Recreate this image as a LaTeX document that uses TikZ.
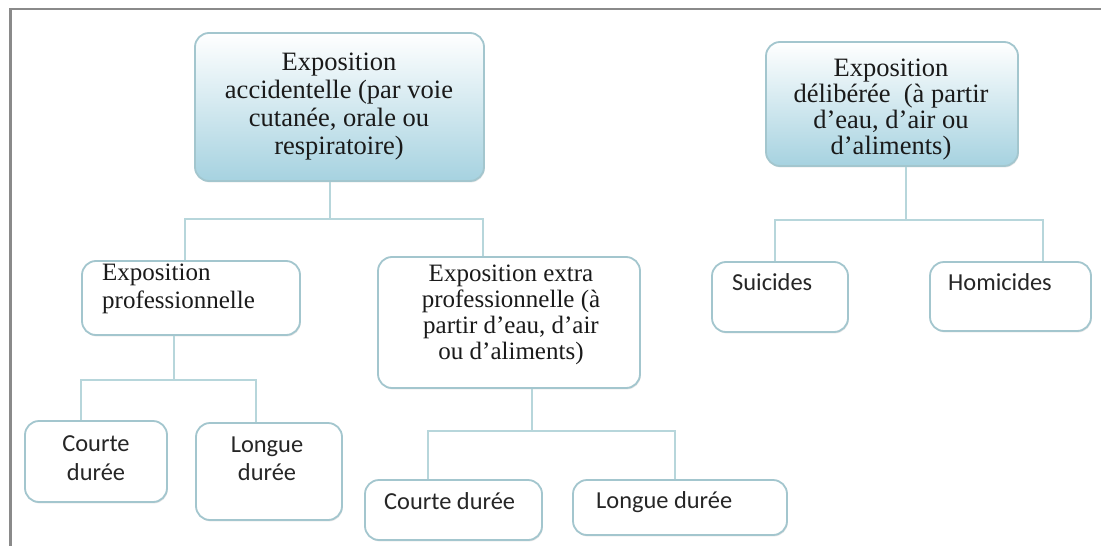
\documentclass[tikz,border=0pt]{standalone}
\usepackage{fontspec}
\usetikzlibrary{shadows}
\setmainfont{Liberation Serif}
\newfontfamily\sansfnt{Carlito}
\definecolor{bordc}{HTML}{A3C6CE}
\definecolor{connc}{HTML}{B7D6DB}
\definecolor{rootbot}{HTML}{A6D2E0}
\definecolor{framec}{HTML}{8A8A8A}
\definecolor{txtc}{HTML}{1A1A1A}
\definecolor{stxtc}{HTML}{262626}
\begin{document}
\begin{tikzpicture}[x=1pt,y=-1pt,
  box/.style={draw=bordc, line width=1.8pt, rounded corners=14pt, fill=white, inner sep=0pt,
    drop shadow={shadow xshift=0.8pt, shadow yshift=-1.4pt, fill=black!30, opacity=0.35}},
  rootbox/.style={box, top color=white, bottom color=rootbot},
  conn/.style={draw=connc, line width=1.5pt},
  serift/.style={text=txtc, font=\fontsize{25}{#1}\selectfont, align=center, inner sep=0pt},
  rootserift/.style={text=txtc, font=\fontsize{26.5}{#1}\selectfont, align=center, inner sep=0pt},
  sanst/.style={text=stxtc, font=\sansfnt\fontsize{24.4}{28.5}\selectfont, align=center, inner sep=0pt},
  sanst1/.style={text=stxtc, font=\sansfnt\fontsize{24.4}{29}\selectfont, inner sep=0pt, anchor=west, text height=0.7em, text depth=0.2em}]
\useasboundingbox (0,0) rectangle (1101,546);
\fill[white] (0,0) rectangle (1101,546);
\draw[framec, line width=2.5pt] (10.5,546) -- (10.5,8.8) -- (1101,8.8);

% boxes
\node[rootbox, minimum width=289pt, minimum height=148pt] (r1) at (339.5,107) {};
\node[rootbox, minimum width=252pt, minimum height=124pt] (r2) at (892,104) {};
\node[box, minimum width=218pt, minimum height=74pt] (prof) at (191,298) {};
\node[box, minimum width=262pt, minimum height=131pt] (extra) at (509,322.5) {};
\node[box, minimum width=142pt, minimum height=81pt] (cl) at (96,461.5) {};
\node[box, minimum width=146pt, minimum height=97pt] (ll) at (269,471.5) {};
\node[box, minimum width=177pt, minimum height=60pt] (cb) at (453.5,510) {};
\node[box, minimum width=214pt, minimum height=55pt] (lb) at (680,507.5) {};
\node[box, minimum width=136pt, minimum height=70pt] (su) at (780,297) {};
\node[box, minimum width=161pt, minimum height=69pt] (ho) at (1010.5,296.5) {};

% texts
\node[rootserift=28] (r1t) at (339,107) {Exposition\\accidentelle (par voie\\cutanée, orale ou\\respiratoire)};
\node[rootserift=26] (r2t) at (891,110) {Exposition\\délibérée\ \ (à partir\\d’eau, d’air ou\\d’aliments)};
\node[serift=28, align=left, anchor=west] (proft) at (102,289) {Exposition\\professionnelle};
\node[serift=26] (extrat) at (511,315) {Exposition extra\\professionnelle (à\\partir d’eau, d’air\\ou d’aliments)};
\node[sanst] (clt) at (96,458) {Courte\\durée};
\node[sanst] (llt) at (267,459) {Longue\\durée};
\node[sanst1] (cbt) at (384,507) {Courte durée};
\node[sanst1] (lbt) at (596,506) {Longue durée};
\node[sanst1] (sut) at (732,288) {Suicides};
\node[sanst1] (hot) at (948,288) {Homicides};

% connectors
\coordinate (j1) at (330,219);
\coordinate (h1a) at (185,219);
\coordinate (h1b) at (483,219);
\draw[conn] (r1.south -| j1) -- (j1);
\draw[conn] (h1a |- prof.north) -- (h1a) -- (h1b) -- (h1b |- extra.north);

\coordinate (j2) at (174,380);
\coordinate (h2a) at (81,380);
\coordinate (h2b) at (256,380);
\draw[conn] (prof.south -| j2) -- (j2);
\draw[conn] (h2a |- cl.north) -- (h2a) -- (h2b) -- (h2b |- ll.north);

\coordinate (j3) at (532,431);
\coordinate (h3a) at (428,431);
\coordinate (h3b) at (675,431);
\draw[conn] (extra.south -| j3) -- (j3);
\draw[conn] (h3a |- cb.north) -- (h3a) -- (h3b) -- (h3b |- lb.north);

\coordinate (j4) at (906,220);
\coordinate (h4a) at (775,220);
\coordinate (h4b) at (1043,220);
\draw[conn] (r2.south -| j4) -- (j4);
\draw[conn] (h4a |- su.north) -- (h4a) -- (h4b) -- (h4b |- ho.north);
\end{tikzpicture}
\end{document}
